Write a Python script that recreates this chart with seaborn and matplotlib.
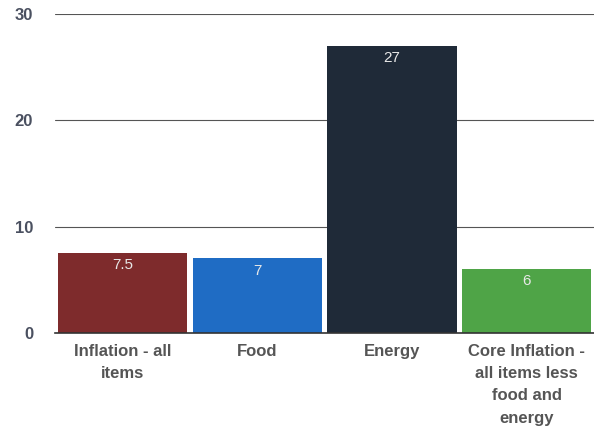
import matplotlib
matplotlib.use("Agg")
import matplotlib.pyplot as plt
import seaborn as sns
import pandas as pd

categories = ["Inflation - all\nitems", "Food", "Energy",
              "Core Inflation -\nall items less\nfood and\nenergy"]
values = [7.5, 7, 27, 6]
value_labels = ["7.5", "7", "27", "6"]
colors = ["#7e2b2c", "#1f6cc4", "#1f2a38", "#4fa447"]
y_ticks = [0, 10, 20, 30]

sns.set_theme(style="white")
plt.rcParams["font.family"] = ["Liberation Sans", "DejaVu Sans"]

df = pd.DataFrame({"category": categories, "value": values})

fig = plt.figure(figsize=(5.94, 4.29), dpi=100)
ax = fig.add_axes([0.093, 0.224, 0.907, 0.744])

sns.barplot(data=df, x="category", y="value", hue="category",
            palette=colors, width=0.96, legend=False, ax=ax,
            edgecolor="none", saturation=1)

ax.set_ylim(0, 30)
ax.set_xlim(-0.5, 3.5)
ax.set_yticks(y_ticks)
ax.yaxis.grid(True, color="#555555", linewidth=0.8)
ax.set_axisbelow(True)
for s in ["top", "right", "left"]:
    ax.spines[s].set_visible(False)
ax.spines["bottom"].set_color("#333333")
ax.spines["bottom"].set_linewidth(1.2)

ax.set_xlabel("")
ax.set_ylabel("")
ax.tick_params(axis="y", length=0, pad=16, labelsize=12, labelcolor="#4a5060")
ax.tick_params(axis="x", length=0, pad=8, labelsize=12, labelcolor="#555555")
for lbl in ax.get_yticklabels():
    lbl.set_fontweight("bold")
for lbl in ax.get_xticklabels():
    lbl.set_fontweight("bold")
    lbl.set_linespacing(1.6)

for i, (v, txt) in enumerate(zip(values, value_labels)):
    ax.text(i, v - 0.5, txt, ha="center", va="top", color="#e8e8e8", fontsize=11)

fig.savefig("out.png", dpi=100)
